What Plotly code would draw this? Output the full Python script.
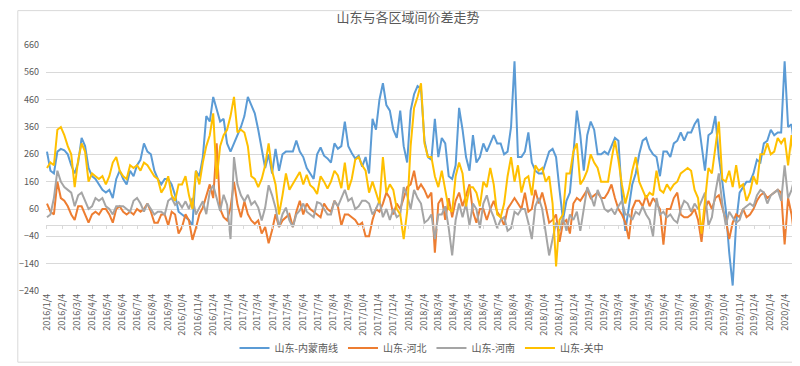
import pandas as pd
import plotly.graph_objects as go

# weekly samples starting 2016-01-04
start_date = "2016-01-04"
n_points = 217
dates = pd.date_range(start_date, periods=n_points, freq="7D")

nm_south = [270,200,190,270,280,275,260,220,190,230,320,290,210,180,170,150,130,120,130,100,170,200,170,150,200,180,220,240,300,270,260,200,170,150,170,
            170,150,110,50,40,30,20,0,200,
            180,250,400,380,470,420,380,390,300,270,300,330,360,400,470,440,410,350,280,210,260,190,280,200,260,270,270,270,
            310,270,250,210,190,170,260,285,255,245,230,300,280,290,380,290,265,245,255,215,250,190,390,350,460,520,440,420,350,320,420,290,230,420,
            480,510,500,
            310,250,240,390,250,320,300,180,170,220,430,350,250,200,330,230,250,300,270,300,330,300,300,260,270,360,600,250,250,270,340,230,200,190,190,230,270,
            280,250,130,20,90,120,260,420,330,200,330,380,350,260,260,270,260,290,320,310,110,-20,60,150,190,260,310,320,280,260,250,180,270,270,250,300,310,
            340,310,340,340,370,390,300,200,330,340,400,250,160,60,-100,-220,10,120,140,160,160,190,240,230,300,310,350,330,340,340,600,360,370,260]

hebei = [80,50,40,160,100,90,70,40,20,70,70,40,10,40,50,40,60,60,40,10,60,70,50,40,50,40,60,50,60,80,50,10,10,40,40,
         0,50,40,-30,-6,41,18,-53,-10,
         41,65,112,150,100,300,60,30,18,65,159,76,30,88,41,18,6,18,-30,-6,-65,-18,41,-6,18,30,41,-6,
         50,90,40,80,60,50,40,30,80,60,50,90,70,0,40,40,30,20,0,10,-40,-40,20,60,50,80,120,100,40,80,60,100,140,150,
         200,130,150,
         130,100,120,-100,80,100,20,100,30,90,120,70,110,150,50,10,60,60,20,60,90,50,30,0,60,80,100,80,60,120,50,60,130,80,120,70,10,
         20,40,-60,10,20,-30,80,100,90,110,130,100,110,120,100,100,120,150,100,60,40,10,-50,60,90,90,70,110,70,100,80,60,-70,60,60,100,120,
         40,30,30,40,60,20,-60,60,90,60,100,110,60,20,-50,10,40,30,60,30,40,60,90,110,120,100,110,120,130,120,-70,100,40,-60]

henan = [30,40,100,200,160,140,130,120,70,110,120,90,60,70,100,90,100,70,60,40,70,70,70,60,50,90,100,80,50,80,60,40,50,50,40,
         90,100,75,85,65,88,60,100,40,
         65,88,41,124,147,100,53,112,76,-50,250,150,110,88,112,76,88,65,18,65,147,110,65,-6,41,65,18,-6,
         40,55,80,50,40,30,85,80,60,40,40,90,70,100,130,90,100,60,70,90,90,80,40,60,90,30,60,20,60,30,40,140,110,60,
         130,100,80,
         10,20,40,-50,40,40,70,-10,-110,20,80,30,80,0,80,60,-10,80,110,60,30,-10,20,30,-20,-10,50,40,60,60,10,-50,70,100,60,-30,-110,
         -50,10,-20,30,-20,40,20,50,-20,60,140,110,70,130,100,60,50,60,40,70,90,40,40,20,50,40,70,40,20,-40,100,40,50,30,40,20,10,
         60,90,80,50,80,60,90,120,0,30,120,190,80,0,50,30,10,20,60,70,80,70,110,130,120,80,110,120,130,90,220,100,130,180]

guanzhong = [210,230,220,350,360,330,290,260,140,240,300,270,160,190,180,170,180,150,180,230,250,200,180,170,220,210,220,200,230,220,200,180,170,120,140,
             180,110,90,150,150,180,110,60,200,
             150,230,290,330,410,170,290,330,350,400,470,340,350,340,290,180,170,140,170,220,300,200,150,40,110,190,130,150,
             170,195,150,185,147,136,115,180,160,135,160,200,183,136,230,130,170,240,250,220,200,120,160,120,80,250,120,150,130,60,40,-50,50,290,
             430,470,520,
             300,250,250,180,140,200,130,60,50,180,230,190,70,140,140,120,70,160,140,210,150,40,30,80,180,250,160,220,120,170,180,110,220,200,210,160,180,
             80,-150,20,40,190,190,270,300,150,170,200,260,230,210,160,160,160,240,310,240,150,80,130,200,250,160,130,100,120,110,200,130,120,150,130,150,160,
             190,200,210,200,130,100,-30,90,210,190,280,380,170,160,200,140,220,140,150,90,120,180,150,260,260,300,260,270,320,300,320,220,330,180]

series_names = ["山东-内蒙南线", "山东-河北", "山东-河南", "山东-关中"]
series_values = [nm_south, hebei, henan, guanzhong]
series_colors = ["#5B9BD5", "#ED7D31", "#A5A5A5", "#FFC000"]

tick_dates = pd.date_range("2016-01-04", "2020-02-04", freq=pd.DateOffset(months=1))
tick_labels = [f"{d.year}/{d.month}/{d.day}" for d in tick_dates]

y_ticks = [-240, -140, -40, 60, 160, 260, 360, 460, 560, 660]

for s in series_values:
    assert len(s) == n_points, len(s)

x_range = ["2016-01-02", "2020-02-28"]
font_family = "Noto Sans CJK SC, Noto Sans, sans-serif"

fig = go.Figure()
for name, vals, col in zip(series_names, series_values, series_colors):
    fig.add_trace(go.Scatter(x=dates, y=vals, name=name, mode="lines",
                             line=dict(color=col, width=2)))
# dummy trace to carry the zero-crossing axis
fig.add_trace(go.Scatter(x=[dates[0]], y=[None], xaxis="x2", showlegend=False,
                         hoverinfo="skip", mode="lines"))

fig.update_layout(
    width=800, height=366,
    margin=dict(l=30, r=11, t=37, b=75),
    paper_bgcolor="white", plot_bgcolor="white",
    font=dict(family=font_family, color="#595959", size=9),
    title=dict(text="山东与各区域间价差走势", x=0.5, xanchor="center",
               y=1 - 9 / 366, yanchor="middle",
               font=dict(size=13, color="#595959", family=font_family)),
    showlegend=True,
    legend=dict(orientation="h", x=0.5, xanchor="center", y=-0.232, yanchor="middle",
                font=dict(size=10, color="#595959"), itemwidth=30,
                bgcolor="rgba(0,0,0,0)"),
    xaxis=dict(type="date", range=x_range, tickmode="array", tickvals=tick_dates,
               ticktext=tick_labels, tickangle=-90, showgrid=False, zeroline=False,
               showline=False, ticks="", tickfont=dict(size=9, color="#595959")),
    xaxis2=dict(type="date", range=x_range, overlaying="x", anchor="free",
                position=240 / 900, side="bottom", tickmode="array",
                tickvals=tick_dates, showticklabels=False, showline=True,
                linecolor="#d9d9d9", linewidth=1, ticks="outside", ticklen=3,
                tickcolor="#d9d9d9", showgrid=False, zeroline=False),
    yaxis=dict(range=[-240, 660], tickmode="array", tickvals=y_ticks,
               showgrid=True, gridcolor="#d9d9d9", gridwidth=1, zeroline=False,
               showline=False, ticks="", tickfont=dict(size=9, color="#595959"),
               ticklabelstandoff=6),
    shapes=[dict(type="rect", xref="paper", yref="paper",
                 x0=(1.5 - 30) / 759, x1=(797.5 - 30) / 759,
                 y0=(291 - 364.5) / 254, y1=(291 - 1.5) / 254,
                 line=dict(color="#d9d9d9", width=1), fillcolor="rgba(0,0,0,0)",
                 layer="below")],
)

fig.write_html("out.html")
